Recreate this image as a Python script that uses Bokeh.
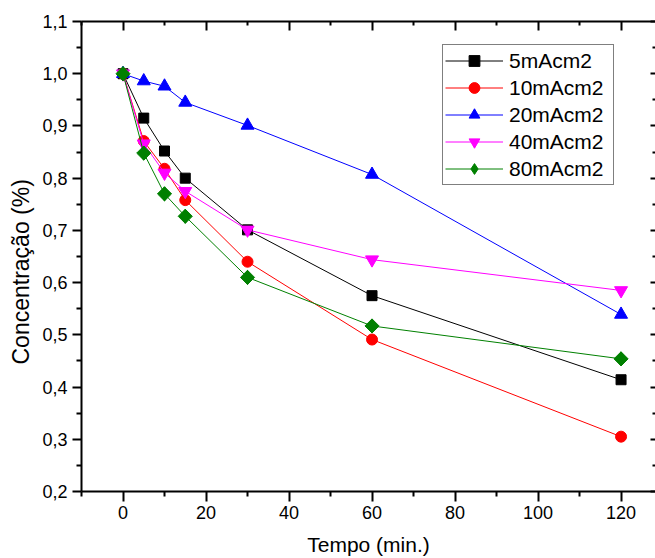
import numpy as np
from bokeh.plotting import figure
from bokeh.models import (FixedTicker, LinearAxis, Title, Legend, LegendItem,
                          CustomJSTickFormatter, Range1d)
from bokeh.embed import file_html
from bokeh.resources import INLINE

# ---- data ----
tempo = [0, 5, 10, 15, 30, 60, 120]
s5 = [1.0, 0.915, 0.852, 0.800, 0.701, 0.575, 0.414]
s10 = [1.0, 0.871, 0.818, 0.758, 0.640, 0.491, 0.305]
s20 = [1.0, 0.986, 0.976, 0.945, 0.901, 0.807, 0.539]
s40 = [1.0, 0.866, 0.810, 0.775, 0.701, 0.644, 0.585]
s80 = [1.0, 0.848, 0.770, 0.727, 0.610, 0.517, 0.454]
series_names = ["5mAcm2", "10mAcm2", "20mAcm2", "40mAcm2", "80mAcm2"]

x_ticks = [0, 20, 40, 60, 80, 100, 120]
x_minor = [-10, 10, 30, 50, 70, 90, 110, 130]
y_ticks = [0.2, 0.3, 0.4, 0.5, 0.6, 0.7, 0.8, 0.9, 1.0, 1.1]
y_minor = [0.25, 0.35, 0.45, 0.55, 0.65, 0.75, 0.85, 0.95, 1.05]

FONT = "Liberation Sans"

p = figure(width=655, height=558,
           x_range=Range1d(-10, 128.3), y_range=Range1d(0.2, 1.1),
           output_backend="svg", toolbar_location=None,
           min_border_left=81, min_border_right=0,
           min_border_top=21, min_border_bottom=66,
           background_fill_color="white", border_fill_color="white")
p.grid.visible = False
p.outline_line_color = None

xt = FixedTicker(ticks=x_ticks, minor_ticks=x_minor)
yt = FixedTicker(ticks=y_ticks, minor_ticks=y_minor)
comma_fmt = CustomJSTickFormatter(code="return tick.toFixed(1).replace('.', ',');")


def style_axis(ax):
    ax.axis_line_width = 2
    ax.axis_line_color = "black"
    ax.major_tick_line_width = 2
    ax.minor_tick_line_width = 2
    ax.major_tick_line_color = "black"
    ax.minor_tick_line_color = "black"
    ax.major_label_text_font = FONT
    ax.major_label_text_font_size = "18px"
    ax.major_label_text_color = "black"
    ax.axis_label_text_font = FONT
    ax.axis_label_text_font_style = "normal"
    ax.axis_label_text_color = "black"


xa = p.xaxis[0]
xa.ticker = xt
style_axis(xa)
xa.major_tick_out = 10
xa.major_tick_in = 0
xa.minor_tick_out = 5
xa.minor_tick_in = 0
xa.major_label_standoff = 4
xa.axis_label = "Tempo (min.)"
xa.axis_label_text_font_size = "21px"
xa.axis_label_standoff = 11

ya = p.yaxis[0]
ya.ticker = yt
ya.formatter = comma_fmt
style_axis(ya)
ya.major_tick_out = 9
ya.major_tick_in = 0
ya.minor_tick_out = 5
ya.minor_tick_in = 0
ya.major_label_standoff = 5

blank = CustomJSTickFormatter(code="return '';")
top = LinearAxis(ticker=xt, formatter=blank)
style_axis(top)
top.major_tick_in = 9
top.major_tick_out = 0
top.minor_tick_in = 4
top.minor_tick_out = 0
top.major_label_standoff = 0
top.major_label_text_font_size = "0px"
p.add_layout(top, "above")

right = LinearAxis(ticker=yt, formatter=blank)
style_axis(right)
right.axis_line_color = None
right.major_tick_in = 5
right.major_tick_out = 0
right.minor_tick_in = 3
right.minor_tick_out = 0
right.major_label_standoff = 0
right.major_label_text_font_size = "0px"
p.add_layout(right, "right")

ylabel = Title(text="Concentração (%)", align="left", offset=127,
               text_font=FONT, text_font_size="23px", text_font_style="normal",
               text_color="black", standoff=11)
p.add_layout(ylabel, "left")

specs = [
    (s5, "black", "square", 10, 0.0),
    (s10, "#ff0000", "circle", 11, 0.0),
    (s20, "#0000ff", "triangle", 13, 0.0),
    (s40, "#ff00ff", "inverted_triangle", 13, 0.0),
    (s80, "#008000", "square", 10, np.pi / 4),
]

items = []
for (vals, color, marker, size, ang), name in zip(specs, series_names):
    ln = p.line(tempo, vals, line_color=color, line_width=1)
    leg_marker = None
    if ang != 0.0:
        # legend markers are drawn unrotated: a diamond renderer (hidden
        # beneath the rotated squares) supplies the legend symbol
        leg_marker = p.scatter(tempo, vals, marker="diamond", size=14,
                               fill_color=color, line_color=color)
    sc = p.scatter(tempo, vals, marker=marker, size=size, angle=ang,
                   fill_color=color, line_color=color)
    items.append(LegendItem(label=name, renderers=[ln, leg_marker or sc]))

legend = Legend(items=items, location=(361, 306),
                label_text_font=FONT, label_text_font_size="21px",
                label_text_color="black",
                glyph_width=58, glyph_height=27, label_height=27,
                label_width=102, label_standoff=6,
                spacing=0, padding=2, margin=0,
                border_line_color="black", border_line_width=1,
                background_fill_color="white", background_fill_alpha=1.0)
p.add_layout(legend, "center")

open("out.html", "w").write(file_html(p, INLINE))
